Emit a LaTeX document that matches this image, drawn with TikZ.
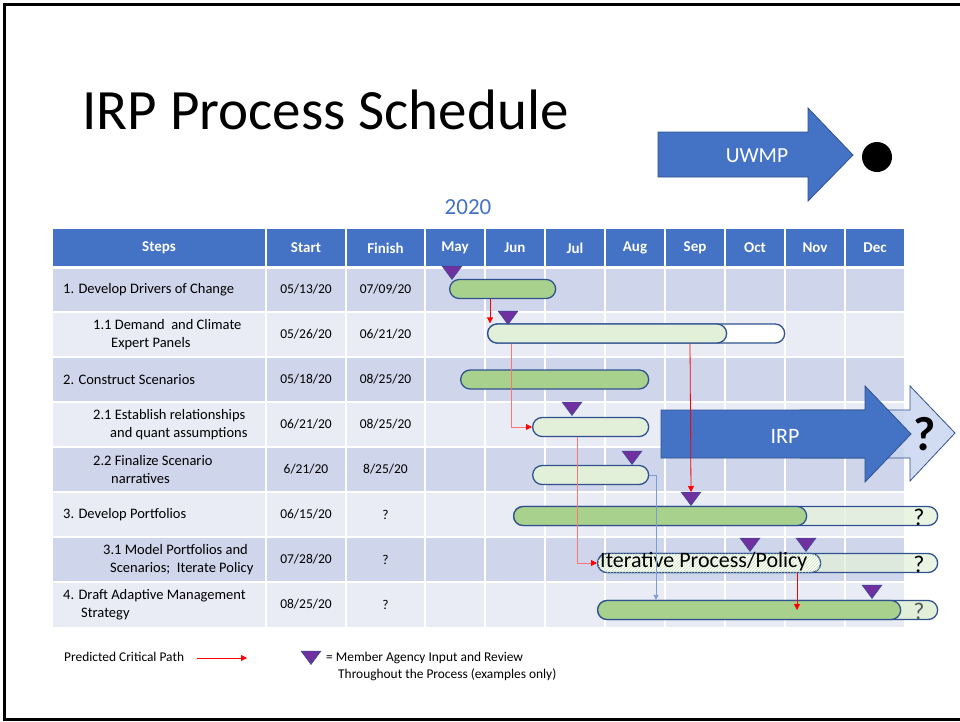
\documentclass[tikz,border=0pt]{standalone}
\usepackage{fontspec}
\setmainfont{Carlito}
\usetikzlibrary{arrows.meta,patterns}

\definecolor{hdrblue}{HTML}{4472C4}
\definecolor{rowdark}{HTML}{CFD5EA}
\definecolor{rowlight}{HTML}{E9EBF5}
\definecolor{barline}{HTML}{2F528F}
\definecolor{bargreen}{HTML}{A9D18E}
\definecolor{barlight}{HTML}{E2F0D9}
\definecolor{revfill}{HTML}{7030A0}
\definecolor{pale}{HTML}{C9D5EE}

\tikzset{
  hdr/.style={text=white,font=\bfseries\fontsize{15}{18}\selectfont},
  cell/.style={font=\fontsize{13.5}{16}\selectfont},
  steptxt/.style={anchor=west,align=left,inner sep=0pt,font=\fontsize{14.5}{17.5}\selectfont},
  bar/.style={draw=barline,line width=1.3pt,rounded corners=9.5pt,minimum height=19pt,inner sep=0pt,anchor=west},
  review/.style={fill=revfill,draw=barline,line width=0.5pt},
  crit/.style={red,line width=0.8pt,-{Triangle[length=6pt,width=6pt]}},
  critlt/.style={red!55,line width=0.8pt,-{Triangle[length=6pt,width=6pt,fill=red,color=red]}},
  link/.style={hdrblue!70,line width=0.8pt,-{Triangle[length=5pt,width=5pt]}},
  bigarrow/.style={fill=hdrblue,draw=barline,line width=0.8pt},
  qmark/.style={font=\fontsize{24}{24}\selectfont}
}

\begin{document}
\begin{tikzpicture}[x=1pt,y=-1pt]
  \useasboundingbox (0,0) rectangle (960,721);
  \draw[line width=3pt] (960,4) -- (4,4) -- (4,719) -- (960,719);

  % title, year and the UWMP arrow
  \node[anchor=base west,font=\fontsize{57}{57}\selectfont] (title) at (79,129) {IRP Process Schedule};
  \node[anchor=base,text=hdrblue,font=\fontsize{23}{23}\selectfont] (year) at (468,214) {2020};
  \draw[bigarrow] (658,132) -- (808,132) -- (808,108) -- (853,155) -- (808,201) -- (808,177) -- (658,177) -- cycle;
  \node[text=white,font=\fontsize{21.5}{21.5}\selectfont] (uwmp) at (757,156) {UWMP};
  \fill (877,157) circle (15);

  % table
  \fill[hdrblue] (53,229) rectangle (904,267);
  \foreach \y in {267,357,447,537} \fill[rowdark] (53,\y) rectangle (904,\y+45);
  \foreach \y in {312,402,492,582} \fill[rowlight] (53,\y) rectangle (904,\y+45);
  \foreach \x in {266,346,425,485,545,605,665,725,785,845}
    \draw[white,line width=2pt] (\x,229) -- (\x,627);
  \foreach \y in {312,357,402,447,492,537,582}
    \draw[white,line width=2pt] (53,\y) -- (904,\y);
  \draw[white,line width=3pt] (53,267) -- (904,267);

  \node[hdr] (hsteps) at (159,248) {Steps};
  \node[hdr] (hstart) at (306,248) {Start};
  \node[hdr] (hfinish) at (385.5,248) {Finish};
  \foreach \m [count=\i from 0] in {May,Jun,Jul,Aug,Sep,Oct,Nov,Dec}
    \node[hdr] (m\i) at (455+60*\i,248) {\m};

  \node[steptxt] (s1) at (63,289.5) {1. Develop Drivers of Change};
  \node[steptxt] (s2) at (93,334.5) {1.1 Demand\ \ and Climate\\\hspace*{18pt}Expert Panels};
  \node[steptxt] (s3) at (63,379.5) {2. Construct Scenarios};
  \node[steptxt] (s4) at (93,424.5) {2.1 Establish relationships\\\hspace*{17pt}and quant assumptions};
  \node[steptxt] (s5) at (93,469.5) {2.2 Finalize Scenario\\\hspace*{18pt}narratives};
  \node[steptxt] (s6) at (63,514.5) {3. Develop Portfolios};
  \node[steptxt] (s7) at (103,559.5) {3.1 Model Portfolios and\\\hspace*{7pt}Scenarios;\ \ Iterate Policy};
  \node[steptxt] (s8) at (63,604.5) {4. Draft Adaptive Management\\\hspace*{18pt}Strategy};

  \node[cell] (st1) at (306,289.5) {05/13/20};
  \node[cell] (st2) at (306,334.5) {05/26/20};
  \node[cell] (st3) at (306,379.5) {05/18/20};
  \node[cell] (st4) at (306,424.5) {06/21/20};
  \node[cell] (st5) at (306,469.5) {6/21/20};
  \node[cell] (st6) at (306,514.5) {06/15/20};
  \node[cell] (st7) at (306,559.5) {07/28/20};
  \node[cell] (st8) at (306,604.5) {08/25/20};
  \node[cell] (fi1) at (385.5,289.5) {07/09/20};
  \node[cell] (fi2) at (385.5,334.5) {06/21/20};
  \node[cell] (fi3) at (385.5,379.5) {08/25/20};
  \node[cell] (fi4) at (385.5,424.5) {08/25/20};
  \node[cell] (fi5) at (385.5,469.5) {8/25/20};
  \node[cell] (fi6) at (385.5,514.5) {?};
  \node[cell] (fi7) at (385.5,559.5) {?};
  \node[cell] (fi8) at (385.5,604.5) {?};

  % IRP arrow over the chart
  \draw[fill=pale,fill opacity=0.85,draw=barline,line width=0.8pt] (800,410) -- (910,410) -- (910,386) -- (955,433) -- (910,481) -- (910,458) -- (800,458) -- cycle;
  \draw[bigarrow] (661,410) -- (865,410) -- (865,386) -- (911,434) -- (865,482) -- (865,458) -- (661,458) -- cycle;
  \node[text=white,font=\fontsize{22}{22}\selectfont] (irp) at (785,436) {IRP};
  \node[font=\bfseries\fontsize{48}{48}\selectfont] (irpq) at (925,434) {?};

  % bars
  \node[bar,fill=bargreen,minimum width=106pt] (b1) at (449,289) {};
  \node[bar,fill=white,minimum width=297pt] (b2) at (487,333.5) {};
  \node[bar,fill=barlight,minimum width=239pt] (b2in) at (487,333.5) {};
  \node[bar,fill=bargreen,minimum width=188pt] (b3) at (460,379.5) {};
  \node[bar,fill=barlight,minimum width=116pt] (b4) at (532,427) {};
  \node[bar,fill=barlight,minimum width=116pt] (b5) at (532,475) {};
  \node[bar,fill=barlight,fill opacity=0.75,minimum width=424pt] (b6) at (513,516) {};
  \node[bar,fill=bargreen,minimum width=293pt] (b6in) at (513,516) {};
  \node[bar,fill=barlight,fill opacity=0.75,minimum width=340pt] (b7) at (597,563) {};
  \node[bar,fill=white,minimum width=223pt,postaction={pattern=north east lines,pattern color=bargreen!70}] (b7in) at (597,563) {};
  \node[bar,fill=barlight,minimum width=340pt] (b8) at (597,610) {};
  \node[bar,fill=bargreen,minimum width=303pt] (b8in) at (597,610) {};
  \node[qmark] (q6) at (919,517) {?};
  \node[qmark] (q7) at (919,564) {?};
  \node[qmark,text=black!65] (q8) at (919,611) {?};
  \node[anchor=west,inner sep=0pt,font=\fontsize{22}{22}\selectfont] (iter) at (600,562) {Iterative Process/Policy};

  % critical path and links
  \coordinate (rv6) at (691,492);
  \draw[crit] (b1.south -| 490,0) -- (b2.north -| 490,0);
  \draw[critlt] (b2.south -| 511,0) |- (b4.west);
  \draw[critlt] (b4.south -| 577,0) |- (b7.west);
  \draw[crit] (b2in.south -| 690,0) -- (rv6);
  \draw[crit] (b7.south -| 797,0) -- (b8.center -| 797,0);
  \draw[link] (b5.east) -| (b8.north -| 656,0);

  % member agency reviews
  \foreach \x/\y in {452/266,508/311,572/402,632/451,691/492,750/538,806/538,872/585,311/651}
    \filldraw[review] (\x-10,\y) -- (\x+10,\y) -- (\x,\y+13.5) -- cycle;

  % legend
  \node[anchor=west,inner sep=0pt,font=\fontsize{13.4}{16}\selectfont] (lgcrit) at (64,657) {Predicted Critical Path};
  \coordinate (lga) at (197,658);
  \coordinate (lgb) at (247,658);
  \draw[crit] (lga) -- (lgb);
  \node[anchor=west,align=left,inner sep=0pt,font=\fontsize{13.4}{17}\selectfont] (lgrev) at (326,666) {= Member Agency Input and Review\\\hspace*{12pt}Throughout the Process (examples only)};
\end{tikzpicture}
\end{document}
